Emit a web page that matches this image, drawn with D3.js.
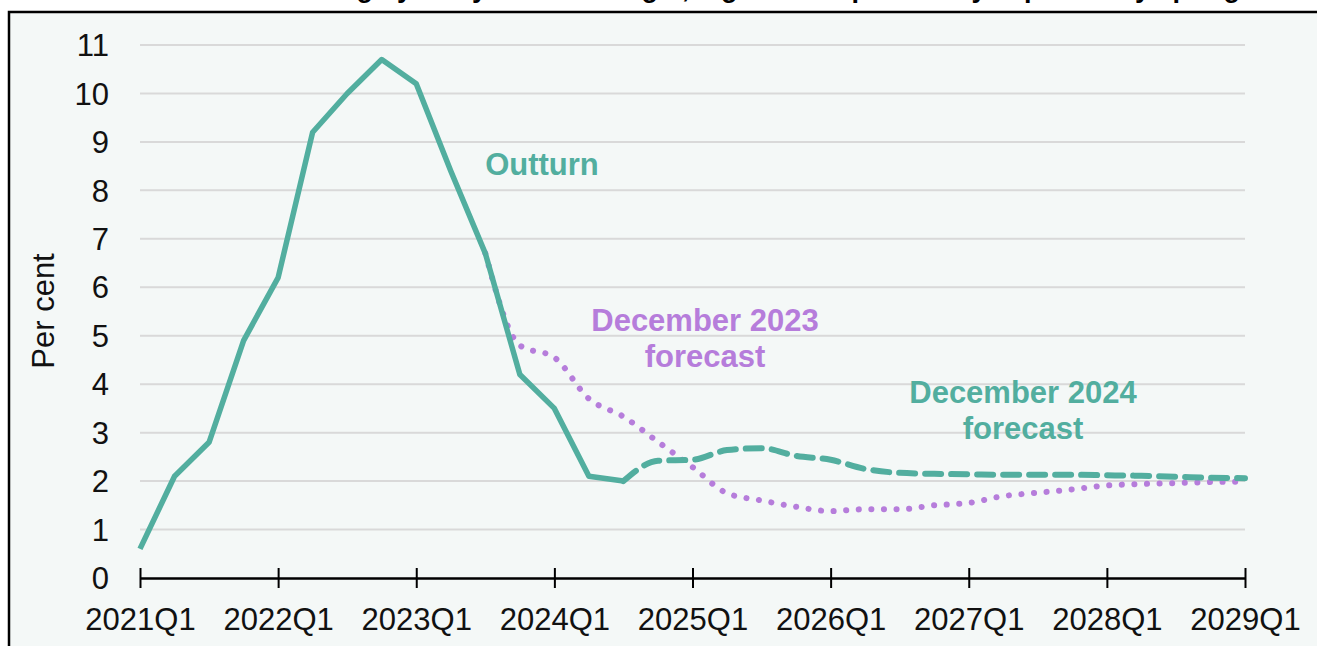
<!DOCTYPE html>
<html>
<head>
<meta charset="utf-8">
<script src="https://cdn.jsdelivr.net/npm/d3@7"></script>
<style>
  body { margin: 0; background: #fff; overflow: hidden; }
  text { font-family: "Liberation Sans", Arial, sans-serif; }
</style>
</head>
<body>
<div class="chart"></div>
<script>
// quarter index 0 = 2021Q1
var tickLabels = ["2021Q1", "2022Q1", "2023Q1", "2024Q1", "2025Q1", "2026Q1", "2027Q1", "2028Q1", "2029Q1"];
var yTicks = [0, 1, 2, 3, 4, 5, 6, 7, 8, 9, 10, 11];

// outturn, 2021Q1 - 2024Q3
var outturnStart = 0;
var outturn = [0.6, 2.1, 2.8, 4.9, 6.2, 9.2, 10.0, 10.7, 10.2, 8.4, 6.7, 4.2, 3.5, 2.1, 2.0];

// December 2024 forecast, 2024Q3 - 2029Q1
var dec24Start = 14;
var dec24 = [2.0, 2.42, 2.44, 2.64, 2.68, 2.52, 2.44, 2.25, 2.17, 2.15, 2.14, 2.13, 2.13, 2.13, 2.12, 2.11, 2.09, 2.07, 2.06];

// December 2023 forecast, 2023Q3 - 2029Q1
var dec23Start = 10;
var dec23 = [6.7, 4.8, 4.55, 3.7, 3.33, 2.81, 2.29, 1.75, 1.6, 1.47, 1.38, 1.42, 1.42, 1.5, 1.55, 1.69, 1.76, 1.83, 1.91, 1.94, 1.96, 1.98, 1.99];

var teal = "#52ae9f";
var purple = "#b67ddb";

var width = 1317;
var height = 646;

var x = d3.scaleLinear().domain([0, 32]).range([140, 1245]);
var y = d3.scaleLinear().domain([0, 11]).range([578, 45]);

var svg = d3
  .select(".chart")
  .append("svg")
  .attr("width", width)
  .attr("height", height)
  .style("display", "block");

// title, cut off at the top of the picture
svg
  .append("text")
  .attr("x", 715)
  .attr("y", -3)
  .attr("text-anchor", "middle")
  .style("font-size", "27px")
  .style("font-weight", "bold")
  .text("Inflation is highly likely to fall to target, higher than previously expected by spring");

svg
  .append("rect")
  .attr("x", 9)
  .attr("y", 12)
  .attr("width", 1340)
  .attr("height", 700)
  .attr("fill", "#f4f8f7")
  .attr("stroke", "#000")
  .attr("stroke-width", 2.5);

// gridlines
svg
  .selectAll(".grid")
  .data(yTicks.slice(1))
  .enter()
  .append("line")
  .attr("x1", 140)
  .attr("x2", 1245)
  .attr("y1", function(d) { return y(d); })
  .attr("y2", function(d) { return y(d); })
  .attr("stroke", "#d9d9d9")
  .attr("stroke-width", 2);

// y labels
svg
  .selectAll(".ylab")
  .data(yTicks)
  .enter()
  .append("text")
  .attr("x", 109)
  .attr("y", function(d) { return y(d); })
  .attr("dy", "0.36em")
  .attr("text-anchor", "end")
  .style("font-size", "31px")
  .attr("fill", "#111")
  .text(function(d) { return d; });

svg
  .append("text")
  .attr("transform", "translate(54,311) rotate(-90)")
  .attr("text-anchor", "middle")
  .style("font-size", "31px")
  .attr("fill", "#111")
  .text("Per cent");

// x axis
var xAxis = d3
  .axisBottom(x)
  .tickValues(d3.range(0, 33, 4))
  .tickSize(0)
  .tickFormat(function(d, i) { return tickLabels[i]; });

var gx = svg
  .append("g")
  .attr("transform", "translate(0," + y(0) + ")")
  .call(xAxis);
gx.select(".domain").attr("stroke", "#000").attr("stroke-width", 2.5);
gx.selectAll(".tick line")
  .attr("y1", -10)
  .attr("y2", 10)
  .attr("stroke", "#000")
  .attr("stroke-width", 2);
gx.selectAll(".tick text")
  .attr("y", 30)
  .attr("dy", "0.71em")
  .style("font-size", "31px")
  .style("font-family", "'Liberation Sans', Arial, sans-serif")
  .attr("fill", "#111");

function lineFor(start, curve) {
  return d3
    .line()
    .x(function(d, i) { return x(start + i); })
    .y(function(d) { return y(d); })
    .curve(curve);
}

svg
  .append("path")
  .datum(dec23)
  .attr("d", lineFor(dec23Start, d3.curveMonotoneX))
  .attr("fill", "none")
  .attr("stroke", purple)
  .attr("stroke-width", 6)
  .attr("stroke-linecap", "round")
  .attr("stroke-dasharray", "0.1 12.5");

svg
  .append("path")
  .datum(dec24)
  .attr("d", lineFor(dec24Start, d3.curveMonotoneX))
  .attr("fill", "none")
  .attr("stroke", teal)
  .attr("stroke-width", 6)
  .attr("stroke-linecap", "round")
  .attr("stroke-dasharray", "16 10");

svg
  .append("path")
  .datum(outturn)
  .attr("d", lineFor(outturnStart, d3.curveLinear))
  .attr("fill", "none")
  .attr("stroke", teal)
  .attr("stroke-width", 5.5)
  .attr("stroke-linejoin", "round");

// series labels
function label(lines, cx, cy, color) {
  var t = svg
    .append("text")
    .attr("text-anchor", "middle")
    .attr("fill", color)
    .style("font-size", "31px")
    .style("font-weight", "bold");
  lines.forEach(function(s, i) {
    t.append("tspan").attr("x", cx).attr("y", cy + i * 36).text(s);
  });
}

label(["Outturn"], 542, 175, teal);
label(["December 2023", "forecast"], 705, 331, purple);
label(["December 2024", "forecast"], 1023, 403, teal);
</script>
</body>
</html>
